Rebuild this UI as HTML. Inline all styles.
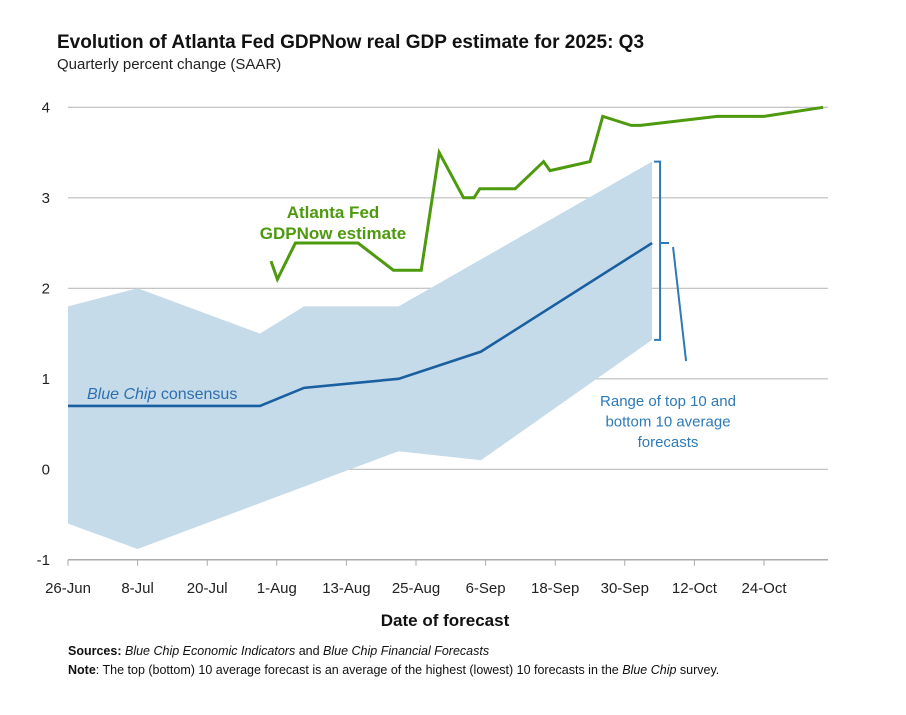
<!DOCTYPE html>
<html><head><meta charset="utf-8">
<style>
body{margin:0;background:#fff;}
svg{display:block;font-family:"Liberation Sans",sans-serif;}
</style></head>
<body>
<svg id="chart" width="906" height="715" viewBox="0 0 906 715">
<text x="57" y="48" font-size="19" font-weight="bold" fill="#111">Evolution of Atlanta Fed GDPNow real GDP estimate for 2025: Q3</text>
<text x="57" y="69" font-size="15" fill="#222">Quarterly percent change (SAAR)</text>
<g id="grid"></g>
<g id="band"></g>
<g id="lines"></g>
<g id="axes"></g>
<text x="333" y="218" font-size="17" font-weight="bold" fill="#4e9a0e" text-anchor="middle"><tspan x="333">Atlanta Fed</tspan><tspan x="333" dy="21">GDPNow estimate</tspan></text>
<text x="87" y="399" font-size="16" fill="#2d6fae"><tspan font-style="italic">Blue Chip</tspan> consensus</text>
<text x="668" y="406" font-size="15" fill="#2d7ab8" text-anchor="middle"><tspan x="668">Range of top 10 and</tspan><tspan x="668" dy="20.5">bottom 10 average</tspan><tspan x="668" dy="20.5">forecasts</tspan></text>
<text x="445" y="626" font-size="17" font-weight="bold" fill="#111" text-anchor="middle">Date of forecast</text>
<text x="68" y="655" font-size="12.5" fill="#111"><tspan font-weight="bold">Sources:</tspan> <tspan font-style="italic">Blue Chip Economic Indicators</tspan> and <tspan font-style="italic">Blue Chip Financial Forecasts</tspan></text>
<text x="68" y="674" font-size="12.5" fill="#111"><tspan font-weight="bold">Note</tspan>: The top (bottom) 10 average forecast is an average of the highest (lowest) 10 forecasts in the <tspan font-style="italic">Blue Chip</tspan> survey.</text>
</svg>
<script>
const yTicks = [4, 3, 2, 1, 0, -1];
const xTickLabels = ["26-Jun","8-Jul","20-Jul","1-Aug","13-Aug","25-Aug","6-Sep","18-Sep","30-Sep","12-Oct","24-Oct"];
const xTickDays = [0,12,24,36,48,60,72,84,96,108,120];
const bandUpperDays = [0, 12, 33.1, 40.7, 57, 100.7];
const bandUpperVals = [1.8, 2.0, 1.5, 1.8, 1.8, 3.4];
const bandLowerDays = [0, 12, 57, 71.2, 100.7];
const bandLowerVals = [-0.6, -0.88, 0.2, 0.1, 1.43];
const consensusDays = [0, 33.1, 40.7, 57, 71.2, 100.7];
const consensusVals = [0.7, 0.7, 0.9, 1.0, 1.3, 2.5];
const gdpnowDays = [35,36.1,39.2,50,56.1,60.9,64,68.2,70,71,77.1,82,83.1,90,92.2,97.1,98.7,111.9,120,130.2];
const gdpnowVals = [2.3,2.1,2.5,2.5,2.2,2.2,3.5,3.0,3.0,3.1,3.1,3.4,3.3,3.4,3.9,3.8,3.8,3.9,3.9,4.0];

const NS = "http://www.w3.org/2000/svg";
const X0 = 68, XEND = 828, PXDAY = 5.8;
const Y0 = 469.3, PXU = 90.5;
const xs = d => X0 + d * PXDAY;
const ys = v => Y0 - v * PXU;
function mk(tag, attrs, parent){const e=document.createElementNS(NS,tag);for(const k in attrs)e.setAttribute(k,attrs[k]);parent.appendChild(e);return e;}

const grid = document.getElementById('grid');
yTicks.forEach(v=>{
  const l = mk('line',{x1:X0,x2:XEND,y1:ys(v),y2:ys(v),stroke:v===-1?'#aaa':'#bdbdbd','stroke-width':v===-1?1.5:1.2},grid);
  
  
  const t = mk('text',{x:50,y:ys(v)+5,'font-size':15,'text-anchor':'end',fill:'#222'},grid);
  t.textContent = String(v);
  
  
});

const axes = document.getElementById('axes');
xTickDays.forEach((d,i)=>{
  const tk = mk('line',{x1:xs(d),x2:xs(d),y1:ys(-1),y2:ys(-1)+6,stroke:'#aaa','stroke-width':1},axes);
  
  
  const t = mk('text',{x:xs(d),y:ys(-1)+33,'font-size':15,'text-anchor':'middle',fill:'#222'},axes);
  t.textContent = xTickLabels[i];
  
  
});

const band = document.getElementById('band');
let pts = bandUpperDays.map((d,i)=>xs(d)+','+ys(bandUpperVals[i]));
for(let i=bandLowerDays.length-1;i>=0;i--) pts.push(xs(bandLowerDays[i])+','+ys(bandLowerVals[i]));
const poly = mk('polygon',{points:pts.join(' '),fill:'#c5dbea'},band);



const lines = document.getElementById('lines');
const cl = mk('polyline',{points:consensusDays.map((d,i)=>xs(d)+','+ys(consensusVals[i])).join(' '),fill:'none',stroke:'#1a5fa0','stroke-width':2.6},lines);


const gl = mk('polyline',{points:gdpnowDays.map((d,i)=>xs(d)+','+ys(gdpnowVals[i])).join(' '),fill:'none',stroke:'#4e9a0e','stroke-width':3,'stroke-linejoin':'miter'},lines);



const endD = bandUpperDays[bandUpperDays.length-1];
const bx = xs(endD)+8;
const yt = ys(bandUpperVals[bandUpperVals.length-1]), yb = ys(bandLowerVals[bandLowerVals.length-1]);
const br = mk('path',{d:`M${bx-6},${yt} H${bx} V${yb} H${bx-6}`,fill:'none',stroke:'#2d7ab8','stroke-width':2},lines);


const yc = ys(consensusVals[consensusVals.length-1]);
const br2 = mk('path',{d:`M${bx},${yc} H${bx+9} M${bx+13},${yc+4} L${bx+26},${yc+118}`,fill:'none',stroke:'#2d7ab8','stroke-width':2},lines);


</script>
</body></html>
